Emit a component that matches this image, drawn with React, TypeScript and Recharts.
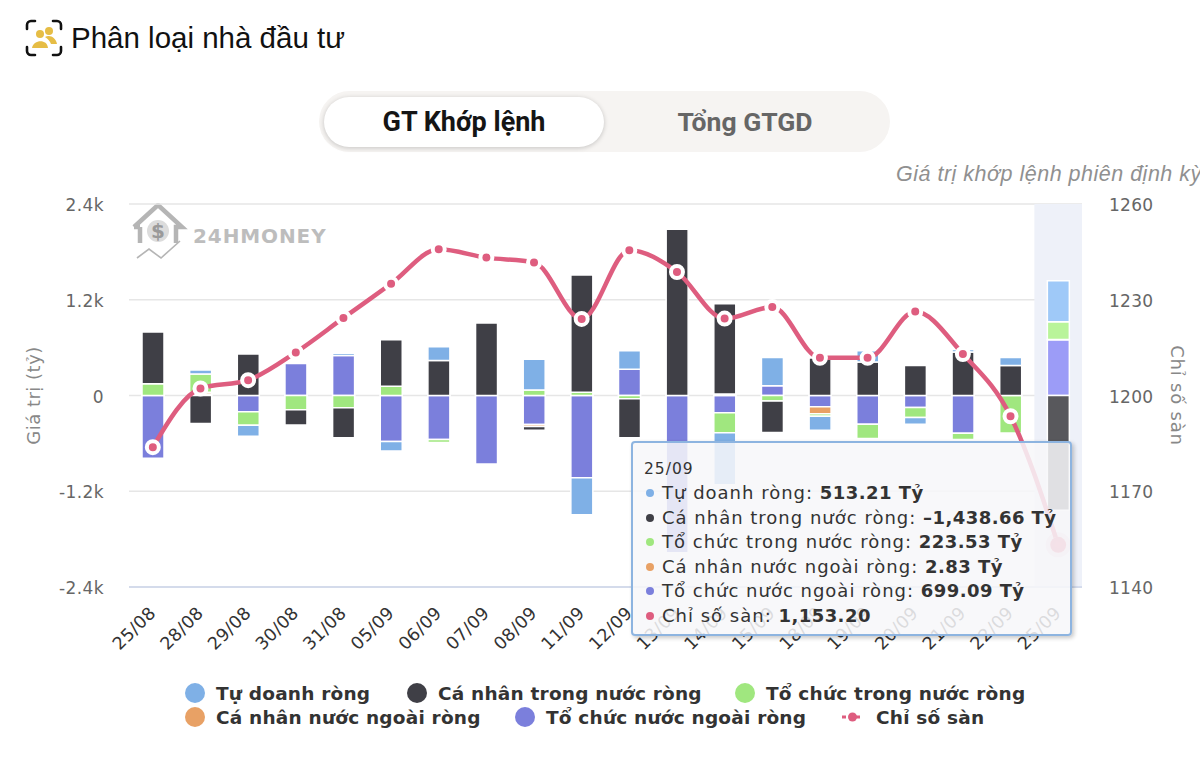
import React from "react";
import { ComposedChart, Bar, Line, XAxis, YAxis, CartesianGrid, Tooltip, Legend, Cell, ReferenceArea } from "recharts";

const categories = ["25/08","28/08","29/08","30/08","31/08","05/09","06/09","07/09","08/09","11/09","12/09","13/09","14/09","15/09","18/09","19/09","20/09","21/09","22/09","25/09"];
const tuDoanh = [0,50,-138,0,30,-120,170,0,385,-465,231,0,-650,355,-175,140,-85,32,100,513.21];
const caNhanTrongNuoc = [650,-350,520,-190,-375,585,440,910,-45,1470,-490,2085,1130,-395,470,420,375,545,375,-1438.66];
const toChucTrongNuoc = [146,230,-167,-180,-155,115,-40,0,70,40,-40,0,-250,-70,-30,-180,-125,-80,-470,223.53];
const caNhanNuocNgoai = [0,20,0,0,0,0,0,0,-25,0,0,0,20,0,-90,0,0,0,0,2.83];
const toChucNuocNgoai = [-785,20,-205,401,500,-575,-550,-860,-364,-1030,330,-1970,-217,122,-140,-360,-150,-472,0,699.09];
const chiSoSan = [1183.8,1202.2,1204.8,1213.5,1224.3,1235,1245.8,1243.2,1241.7,1224,1245.5,1238.7,1224.1,1227.7,1211.8,1211.8,1226.3,1213,1193.5,1153.2];
const leftTicks = [-2400,-1200,0,1200,2400];
const rightTicks = [1140,1170,1200,1230,1260];

const tableData = categories.map((day, i) => ({
  day,
  tuDoanh: tuDoanh[i],
  caNhanTrongNuoc: caNhanTrongNuoc[i],
  toChucTrongNuoc: toChucTrongNuoc[i],
  caNhanNuocNgoai: caNhanNuocNgoai[i],
  toChucNuocNgoai: toChucNuocNgoai[i],
  chiSoSan: chiSoSan[i],
}));

const C = { blue: "#7fb0e6", dark: "#3f3f46", green: "#a0e77f", orange: "#e8a165", purple: "#7b7fdc", pink: "#de5d7f" };
const H = { blue: "#9fc9f8", dark: "#58585c", green: "#b9f49a", orange: "#f5b888", purple: "#9c9cf7" };
const FONT = "'DejaVu Sans', sans-serif";
const UI = "Roboto, sans-serif";

const barSeries = [
  { key: "toChucNuocNgoai", name: "Tổ chức nước ngoài ròng", color: C.purple, hi: H.purple },
  { key: "caNhanNuocNgoai", name: "Cá nhân nước ngoài ròng", color: C.orange, hi: H.orange },
  { key: "toChucTrongNuoc", name: "Tổ chức trong nước ròng", color: C.green, hi: H.green },
  { key: "caNhanTrongNuoc", name: "Cá nhân trong nước ròng", color: C.dark, hi: H.dark },
  { key: "tuDoanh", name: "Tự doanh ròng", color: C.blue, hi: H.blue },
];

const legendRows = [
  [{ n: "Tự doanh ròng", c: C.blue, x: 185 }, { n: "Cá nhân trong nước ròng", c: C.dark, x: 407 }, { n: "Tổ chức trong nước ròng", c: C.green, x: 735 }],
  [{ n: "Cá nhân nước ngoài ròng", c: C.orange, x: 185 }, { n: "Tổ chức nước ngoài ròng", c: C.purple, x: 515 }, { n: "Chỉ số sàn", c: C.pink, x: 842, line: true }],
];

function LegendBox() {
  return (
    <svg width={1200} height={50} style={{ display: "block" }}>
      {legendRows.map((row, r) =>
        row.map((it: any) => (
          <g key={it.n}>
            {it.line ? (
              <g>
                <line x1={it.x} x2={it.x + 21} y1={11 + r * 24} y2={11 + r * 24} stroke={it.c} strokeWidth={3} strokeDasharray="4 3" />
                <circle cx={it.x + 10.5} cy={11 + r * 24} r={4.5} fill={it.c} />
              </g>
            ) : (
              <circle cx={it.x + 10} cy={11 + r * 24} r={10} fill={it.c} />
            )}
            <text x={it.line ? it.x + 34 : it.x + 31} y={18 + r * 24} fontFamily={FONT} fontWeight={700} fontSize={18.5} letterSpacing={0.2} fill="#333">{it.n}</text>
          </g>
        ))
      )}
    </svg>
  );
}

const tooltipRows = [
  { label: "Tự doanh ròng", value: "513.21 Tỷ", c: C.blue },
  { label: "Cá nhân trong nước ròng", value: "–1,438.66 Tỷ", c: C.dark },
  { label: "Tổ chức trong nước ròng", value: "223.53 Tỷ", c: C.green },
  { label: "Cá nhân nước ngoài ròng", value: "2.83 Tỷ", c: C.orange },
  { label: "Tổ chức nước ngoài ròng", value: "699.09 Tỷ", c: C.purple },
  { label: "Chỉ số sàn", value: "1,153.20", c: C.pink },
];

function TooltipBox() {
  return (
    <div style={{ width: 441, height: 195, boxSizing: "border-box", background: "rgba(247,247,249,0.86)", border: "2px solid #8db4e0", borderRadius: 4, boxShadow: "2px 2px 4px rgba(0,0,0,0.22)", padding: "15px 0 0 11px", fontFamily: FONT, color: "#333", fontSize: 18, letterSpacing: 1, lineHeight: "24.6px", whiteSpace: "nowrap" }}>
      <div style={{ fontSize: 15.5, lineHeight: "22px", marginBottom: 1 }}>25/09</div>
      {tooltipRows.map((r) => (
        <div key={r.label}>
          <span style={{ display: "inline-block", width: 8, height: 8, borderRadius: 4, background: r.c, margin: "0 8px 2px 2px" }} />
          {r.label}: <b style={{ letterSpacing: 0.45 }}>{r.value}</b>
        </div>
      ))}
    </div>
  );
}

function XTick({ x, y, payload }: any) {
  return (
    <text x={x + 4} y={y + 19} transform={`rotate(-45 ${x + 4} ${y + 19})`} textAnchor="end" fontFamily={FONT} fontSize={17.5} letterSpacing={0.4} fill="#333">
      {payload.value}
    </text>
  );
}

function fmtK(v: number) {
  return v === 0 ? "0" : `${v / 1000}k`;
}

function HeaderIcon() {
  return (
    <svg width={38} height={38} viewBox="0 0 38 38" style={{ position: "absolute", left: 25, top: 19 }}>
      <path d="M2 10 V6 a4 4 0 0 1 4 -4 H10 M28 2 H32 a4 4 0 0 1 4 4 V10 M36 28 V32 a4 4 0 0 1 -4 4 H28 M10 36 H6 a4 4 0 0 1 -4 -4 V28" fill="none" stroke="#111" strokeWidth={2.6} strokeLinecap="round" />
      <circle cx={15} cy={15} r={4} fill="#e6bd45" />
      <circle cx={24} cy={12} r={4} fill="#e6bd45" />
      <path d="M7 29 C8 21 22 19 23 29 Z" fill="#e6bd45" />
      <path d="M20 18 C25 15 31 19 32 25 L26 25 C25 22 23 20 20 18 Z" fill="#e6bd45" />
    </svg>
  );
}

function Watermark() {
  return (
    <svg width={200} height={70} viewBox="0 0 200 70" style={{ position: "absolute", left: 132, top: 203 }}>
      <path d="M2 24 L26 2 L50 24 L44 24 L44 40 M8 24 L8 40 M2 24 L8 24" fill="none" stroke="#b5b5b5" strokeWidth={4.5} />
      <circle cx={26} cy={28} r={11} fill="#dcdcdc" />
      <text x={26} y={35} textAnchor="middle" fontFamily={FONT} fontWeight={700} fontSize={20} fill="#9a9a9a">$</text>
      <path d="M5 55 L17 46 L29 55 L48 38" fill="none" stroke="#b5b5b5" strokeWidth={1.6} />
      <text x={61} y={40} fontFamily={FONT} fontWeight={700} fontSize={20} letterSpacing={0.9} fill="#bdbdbd">24HMONEY</text>
    </svg>
  );
}

export default function App() {
  return (
    <div style={{ position: "absolute", left: 0, top: 0, width: 1200, height: 760, overflow: "hidden", background: "#fff" }}>
      <HeaderIcon />
      <div style={{ position: "absolute", left: 71, top: 19, fontFamily: "'Liberation Sans', sans-serif", fontSize: 29.5, lineHeight: "38px", color: "#111" }}>Phân loại nhà đầu tư</div>
      <div style={{ position: "absolute", left: 319, top: 91, width: 571, height: 61, borderRadius: 31, background: "#f6f4f2" }} />
      <div style={{ position: "absolute", left: 324, top: 97, width: 280, height: 50, borderRadius: 25, background: "#fff", boxShadow: "0 1px 5px rgba(0,0,0,0.2)", fontFamily: UI, fontWeight: 700, fontSize: 27, lineHeight: "50px", textAlign: "center", color: "#151515" }}>GT Khớp lệnh</div>
      <div style={{ position: "absolute", left: 604, top: 97, width: 282, height: 50, fontFamily: UI, fontWeight: 700, fontSize: 26.5, lineHeight: "50px", textAlign: "center", color: "#666" }}>Tổng GTGD</div>
      <div style={{ position: "absolute", left: 896, top: 160, fontFamily: "'Liberation Sans', sans-serif", fontStyle: "italic", fontSize: 21.5, lineHeight: "28px", letterSpacing: 0.5, color: "#909090", whiteSpace: "nowrap" }}>Giá trị khớp lệnh phiên định kỳ</div>
      <Watermark />
      <div style={{ position: "absolute", left: 0, top: 0 }}>
        <ComposedChart width={1200} height={760} data={tableData} stackOffset="sign" margin={{ top: 204, right: 18, left: 29, bottom: 73 }} style={{ background: "transparent" }}>
          <ReferenceArea yAxisId="left" x1="25/09" x2="25/09" fill="#eef1f9" fillOpacity={1} stroke="none" />
          <CartesianGrid yAxisId="left" vertical={false} stroke="#e6e6e6" strokeWidth={1.5} />
          <XAxis dataKey="day" interval={0} height={50} tick={<XTick />} tickLine={false} axisLine={{ stroke: "#ccd6eb", strokeWidth: 1.5 }} />
          <YAxis yAxisId="left" width={100} domain={[-2400, 2400]} ticks={leftTicks} tickFormatter={fmtK} axisLine={false} tickLine={false} tickMargin={19}
            tick={{ fontFamily: FONT, fontSize: 17, fill: "#666", letterSpacing: 0.4, dy: 1 }}
            label={{ value: "Giá trị (tỷ)", angle: -90, position: "insideLeft", dy: 0, dx: 0, style: { fontFamily: FONT, fontSize: 18, letterSpacing: 0.5, fill: "#888", textAnchor: "middle" } }} />
          <YAxis yAxisId="right" orientation="right" width={100} domain={[1140, 1260]} ticks={rightTicks} axisLine={false} tickLine={false} tickMargin={21}
            tick={{ fontFamily: FONT, fontSize: 17, fill: "#666", letterSpacing: 0.3, dy: 1 }}
            label={{ value: "Chỉ số sàn", angle: 90, position: "insideRight", dx: 0, style: { fontFamily: FONT, fontSize: 18, letterSpacing: 0.8, fill: "#888", textAnchor: "middle" } }} />
          <Tooltip defaultIndex={19} cursor={false} position={{ x: 631, y: 441 }} allowEscapeViewBox={{ x: true, y: true }} content={<TooltipBox />} isAnimationActive={false} />
          <Legend content={<LegendBox />} wrapperStyle={{ left: 0, top: 682, width: 1200, height: 50, bottom: "auto" }} />
          {barSeries.map((s) => (
            <Bar key={s.key} yAxisId="left" dataKey={s.key} name={s.name} stackId="net" barSize={22} fill={s.color} stroke="#fff" strokeWidth={1.5} isAnimationActive={false}>
              {categories.map((d, i) => (
                <Cell key={d} fill={i === categories.length - 1 ? s.hi : s.color} />
              ))}
            </Bar>
          ))}
          <Line yAxisId="right" type="monotone" dataKey="chiSoSan" name="Chỉ số sàn" stroke={C.pink} strokeWidth={4.5} dot={{ r: 6, fill: C.pink, stroke: "#fff", strokeWidth: 4 }} activeDot={{ r: 8, fill: C.pink, stroke: C.pink, strokeOpacity: 0.2, strokeWidth: 9 }} isAnimationActive={false} />
        </ComposedChart>
      </div>
    </div>
  );
}
